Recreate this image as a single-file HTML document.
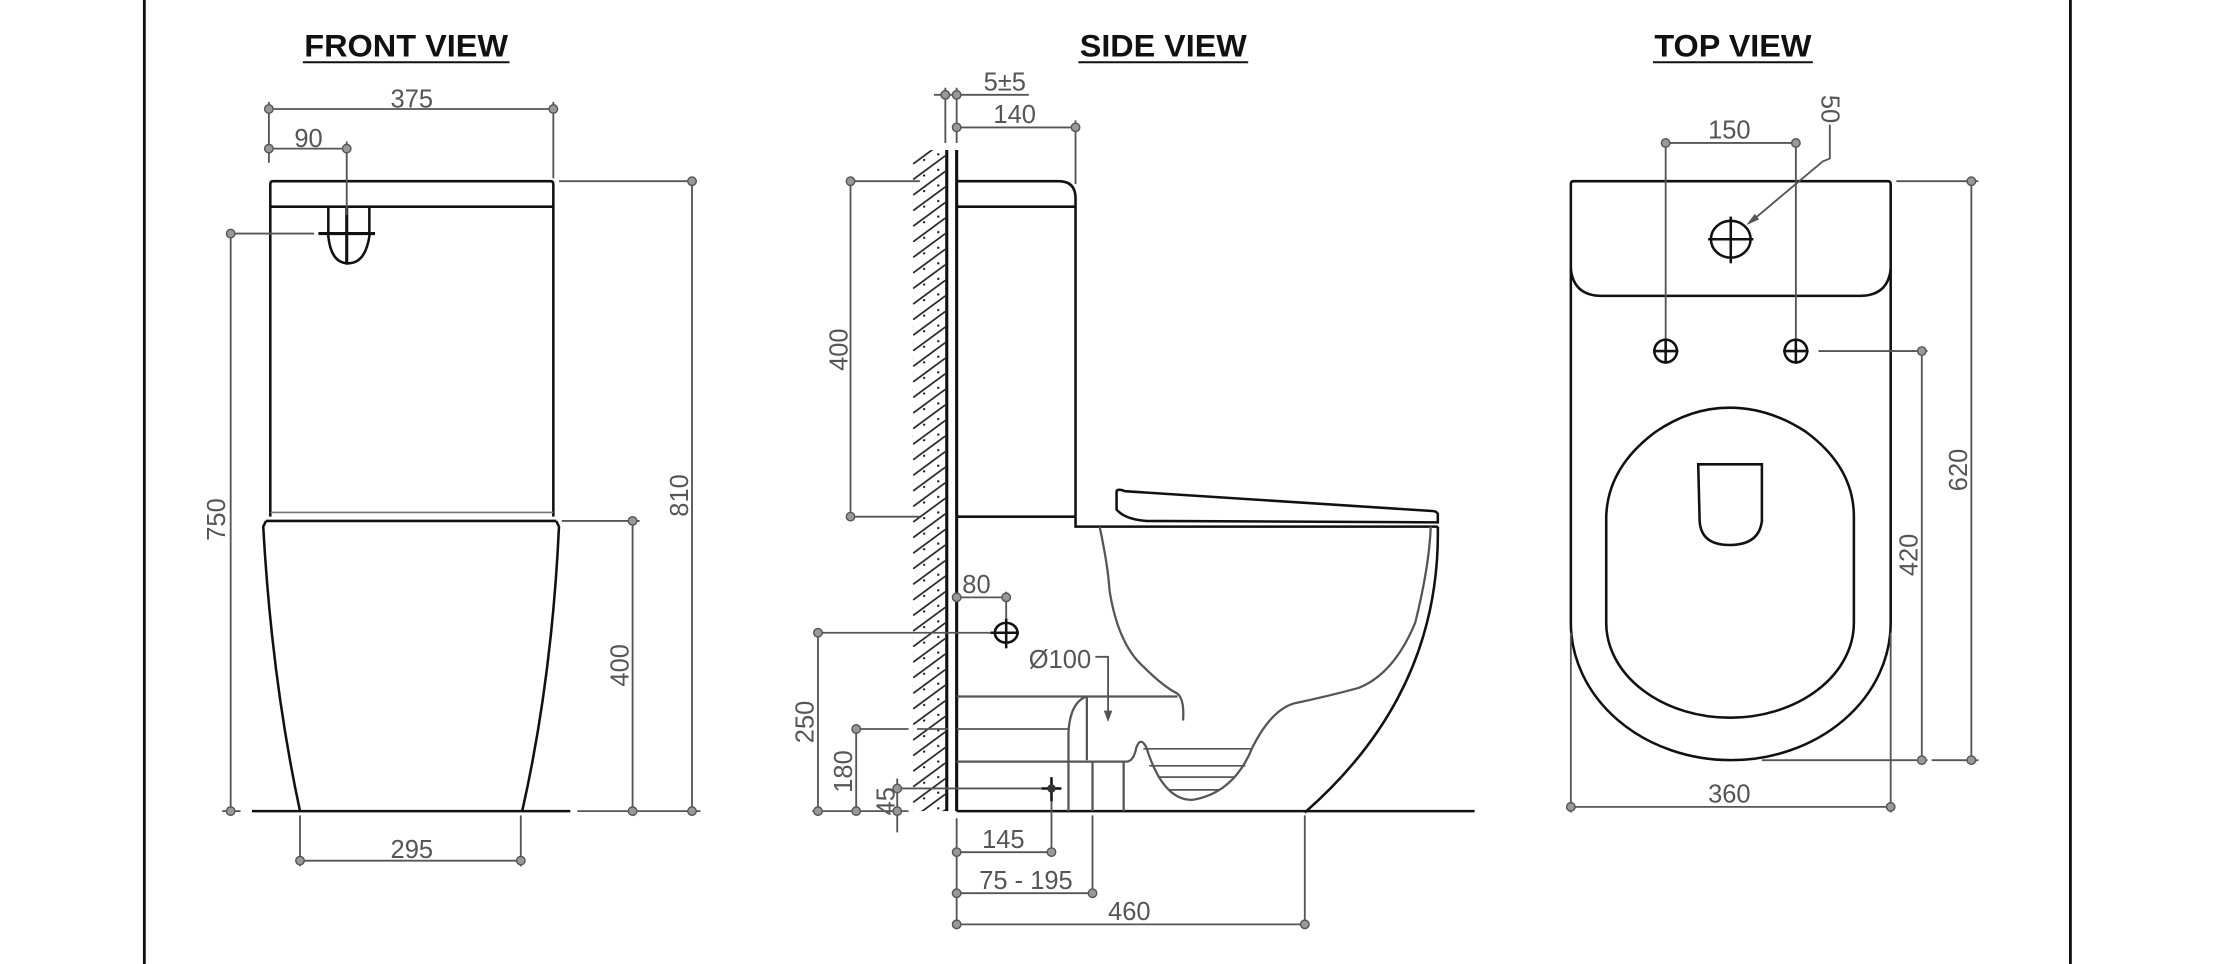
<!DOCTYPE html>
<html><head><meta charset="utf-8"><style>
html,body{margin:0;padding:0;background:#fff}
svg{display:block}
text{font-family:"Liberation Sans",sans-serif;fill:#555;font-size:18px}
.t{font-weight:bold;fill:#111;font-size:22px}
</style></head><body>
<svg width="2219" height="964" viewBox="0 0 1568 681" preserveAspectRatio="none" xmlns="http://www.w3.org/2000/svg">
<defs>
<pattern id="h" width="23" height="11" patternUnits="userSpaceOnUse" x="645" y="105">
<line x1="0" y1="11" x2="23" y2="-6" stroke="#222" stroke-width="1.2"/>
<line x1="-23" y1="11" x2="0" y2="-6" stroke="#222" stroke-width="1.2"/>
<line x1="0" y1="22" x2="23" y2="5" stroke="#222" stroke-width="1.2"/>
<circle cx="8" cy="8" r="0.8" fill="#111"/><circle cx="18" cy="4" r="0.8" fill="#111"/>
</pattern>
</defs>
<rect width="1568" height="681" fill="#fff"/>
<line x1="102" y1="0" x2="102" y2="681" stroke="#111" stroke-width="2"/>
<line x1="1463" y1="0" x2="1463" y2="681" stroke="#111" stroke-width="2"/>

<!-- titles -->
<text class="t" x="215" y="40" textLength="144" lengthAdjust="spacingAndGlyphs">FRONT VIEW</text>
<line x1="214" y1="44" x2="360" y2="44" stroke="#111" stroke-width="1.4"/>
<text class="t" x="763" y="40" textLength="118" lengthAdjust="spacingAndGlyphs">SIDE VIEW</text>
<line x1="762" y1="44" x2="882" y2="44" stroke="#111" stroke-width="1.4"/>
<text class="t" x="1169" y="40" textLength="111" lengthAdjust="spacingAndGlyphs">TOP VIEW</text>
<line x1="1168" y1="44" x2="1281" y2="44" stroke="#111" stroke-width="1.4"/>

<!-- ============ FRONT VIEW ============ -->
<g fill="none" stroke="#111" stroke-width="1.8">
<path d="M191,365 L191,130 Q191,128 193,128 L389,128 Q391,128 391,130 L391,365"/>
<line x1="191" y1="146" x2="391" y2="146"/>
<line x1="188" y1="368" x2="393" y2="368"/>
<path d="M188,368 L186,372 Q192,480 212,573"/>
<path d="M393,368 L395,372 Q390,480 369,573"/>
<line x1="178" y1="573" x2="403" y2="573"/>
<path d="M232,146 L232,167 Q234,186 246,186 Q258,186 261,167 L261,146"/>
<line x1="225" y1="165" x2="265" y2="165" stroke-width="2.2"/>
<line x1="245" y1="146" x2="245" y2="187" stroke-width="2.2"/>
</g>
<line x1="191" y1="362" x2="391" y2="362" stroke="#777" stroke-width="1.2"/>
<g fill="none" stroke="#555" stroke-width="1.3">
<line x1="190" y1="77" x2="391" y2="77"/><line x1="190" y1="72" x2="190" y2="115"/><line x1="391" y1="72" x2="391" y2="126"/>
<line x1="190" y1="105" x2="245" y2="105"/><line x1="245" y1="100" x2="245" y2="152"/>
<line x1="163" y1="165" x2="222" y2="165"/><line x1="163" y1="165" x2="163" y2="573"/>
<line x1="157" y1="573" x2="170" y2="573"/>
<line x1="395" y1="128" x2="492" y2="128"/><line x1="489" y1="128" x2="489" y2="573"/>
<line x1="397" y1="368" x2="452" y2="368"/><line x1="447" y1="368" x2="447" y2="573"/>
<line x1="408" y1="573" x2="495" y2="573"/>
<line x1="212" y1="576" x2="212" y2="612"/><line x1="368" y1="576" x2="368" y2="612"/>
<line x1="212" y1="608" x2="368" y2="608"/>
</g>
<g fill="#999" stroke="#555" stroke-width="1">
<circle cx="190" cy="77" r="3"/><circle cx="391" cy="77" r="3"/>
<circle cx="190" cy="105" r="3"/><circle cx="245" cy="105" r="3"/>
<circle cx="163" cy="165" r="3"/><circle cx="163" cy="573" r="3"/>
<circle cx="489" cy="128" r="3"/><circle cx="489" cy="573" r="3"/>
<circle cx="447" cy="368" r="3"/><circle cx="447" cy="573" r="3"/>
<circle cx="212" cy="608" r="3"/><circle cx="368" cy="608" r="3"/>
</g>
<text x="291" y="76" text-anchor="middle">375</text>
<text x="218" y="104" text-anchor="middle">90</text>
<text x="291" y="606" text-anchor="middle">295</text>
<text transform="translate(159,367) rotate(-90)" text-anchor="middle">750</text>
<text transform="translate(486,350) rotate(-90)" text-anchor="middle">810</text>
<text transform="translate(444,470) rotate(-90)" text-anchor="middle">400</text>

<!-- ============ SIDE VIEW ============ -->
<rect x="645" y="106" width="23" height="467" fill="url(#h)"/>
<g fill="none" stroke="#111" stroke-width="1.8">
<line x1="669" y1="106" x2="669" y2="573" stroke-width="2.2"/>
<line x1="676" y1="106" x2="676" y2="573" stroke-width="2.2"/>
<path d="M676,128 L748,128 Q760,128 760,140 L760,365"/>
<line x1="676" y1="146" x2="760" y2="146"/>
<line x1="676" y1="365" x2="760" y2="365"/>
<path d="M760,365 L760,372 L1016,372"/>
<path d="M789,347 L789,360 Q795,367 810,368 L1016,369 L1016,363 Q1015,361 1012,361 L795,347 Q790,345 789,347 Z"/>
<path d="M1016,372 Q1018,490 922,574"/>
<line x1="676" y1="573" x2="1042" y2="573"/>
</g>
<g fill="none" stroke="#555" stroke-width="1.6">
<path d="M777,372 Q783,400 784,417 Q790,455 808,471 Q822,485 832,490 Q837,494 836,509"/>
<path d="M676,492 L832,492"/>
<path d="M768,492 L768,537"/>
<path d="M768,492 Q756,496 755,518 L755,573"/>
<path d="M676,538 L796,538 Q801,538 803,528 Q806,520 810,528 Q822,566 843,565 Q872,560 885,528 Q898,502 914,497 Q938,492 960,486 Q985,476 1000,440 Q1010,400 1011,372"/>
<line x1="772" y1="538" x2="772" y2="573"/><line x1="794" y1="538" x2="794" y2="573"/>
<line x1="808" y1="529" x2="885" y2="529" stroke-width="1.2"/>
<line x1="812" y1="541" x2="880" y2="541" stroke-width="1.2"/>
<line x1="818" y1="549" x2="873" y2="549" stroke-width="1.2"/>
<line x1="826" y1="558" x2="861" y2="558" stroke-width="1.2"/>
<line x1="676" y1="515" x2="755" y2="515" stroke-width="1.2"/>
</g>
<g fill="none" stroke="#555" stroke-width="1.3">
<line x1="660" y1="67" x2="727" y2="67"/>
<line x1="668" y1="62" x2="668" y2="101"/><line x1="676" y1="62" x2="676" y2="101"/>
<line x1="676" y1="90" x2="760" y2="90"/><line x1="760" y1="85" x2="760" y2="130"/>
<line x1="598" y1="128" x2="650" y2="128"/><line x1="598" y1="365" x2="650" y2="365"/>
<line x1="601" y1="128" x2="601" y2="365"/>
<line x1="676" y1="422" x2="711" y2="422"/><line x1="711" y1="418" x2="711" y2="437"/>
<line x1="575" y1="447" x2="700" y2="447"/><line x1="578" y1="447" x2="578" y2="573"/>
<line x1="602" y1="515" x2="670" y2="515" stroke-dasharray="40 6"/>
<line x1="605" y1="515" x2="605" y2="573"/>
<line x1="634" y1="550" x2="634" y2="588"/><line x1="634" y1="557" x2="745" y2="557"/>
<line x1="574" y1="573" x2="642" y2="573"/>
<line x1="676" y1="578" x2="676" y2="656"/>
<line x1="676" y1="602" x2="743" y2="602"/><line x1="743" y1="560" x2="743" y2="604"/>
<line x1="676" y1="631" x2="772" y2="631"/><line x1="772" y1="576" x2="772" y2="633"/>
<line x1="676" y1="653" x2="922" y2="653"/><line x1="922" y1="576" x2="922" y2="655"/>
<path d="M774,464 L783,464 L783,506"/>
</g>
<path d="M780,502 L783,510 L786,502 Z" fill="#555"/>
<g fill="#999" stroke="#555" stroke-width="1">
<circle cx="668" cy="67" r="3"/><circle cx="676" cy="67" r="3"/>
<circle cx="676" cy="90" r="3"/><circle cx="760" cy="90" r="3"/>
<circle cx="601" cy="128" r="3"/><circle cx="601" cy="365" r="3"/>
<circle cx="676" cy="422" r="3"/><circle cx="711" cy="422" r="3"/>
<circle cx="578" cy="447" r="3"/><circle cx="578" cy="573" r="3"/>
<circle cx="605" cy="515" r="3"/><circle cx="605" cy="573" r="3"/>
<circle cx="634" cy="557" r="3"/><circle cx="634" cy="573" r="3"/>
<circle cx="676" cy="602" r="3"/><circle cx="743" cy="602" r="3"/>
<circle cx="676" cy="631" r="3"/><circle cx="772" cy="631" r="3"/>
<circle cx="676" cy="653" r="3"/><circle cx="922" cy="653" r="3"/>
</g>
<g fill="none" stroke="#111" stroke-width="1.8">
<ellipse cx="711" cy="447" rx="8" ry="7"/>
<line x1="700" y1="447" x2="720" y2="447"/><line x1="711" y1="437" x2="711" y2="458"/>
<line x1="736" y1="557" x2="750" y2="557"/><line x1="743" y1="549" x2="743" y2="566"/>
</g>
<circle cx="743" cy="557" r="3" fill="#333"/>
<text x="710" y="64" text-anchor="middle">5±5</text>
<text x="717" y="87" text-anchor="middle">140</text>
<text x="690" y="419" text-anchor="middle">80</text>
<text x="749" y="472" text-anchor="middle">Ø100</text>
<text x="709" y="599" text-anchor="middle">145</text>
<text x="725" y="628" text-anchor="middle">75 - 195</text>
<text x="798" y="650" text-anchor="middle">460</text>
<text transform="translate(599,247) rotate(-90)" text-anchor="middle">400</text>
<text transform="translate(575,510) rotate(-90)" text-anchor="middle">250</text>
<text transform="translate(602,545) rotate(-90)" text-anchor="middle">180</text>
<text transform="translate(632,566) rotate(-90)" text-anchor="middle">45</text>

<!-- ============ TOP VIEW ============ -->
<g fill="none" stroke="#111" stroke-width="1.8">
<path d="M1110,440 L1110,130 Q1110,128 1112,128 L1334,128 Q1336,128 1336,130 L1336,440 A113,97 0 0 1 1110,440"/>
<path d="M1110,190 Q1112,209 1132,209 L1314,209 Q1334,209 1336,190"/>
<path d="M1135,440 L1135,365 Q1136,330 1170,305 Q1195,288 1222,288 Q1250,288 1276,305 Q1310,330 1310,365 L1310,440 A87.5,67 0 0 1 1135,440 Z"/>
<path d="M1200,328 L1245,328 L1245,368 Q1243,385 1222,385 Q1202,385 1201,368 Z"/>
<ellipse cx="1223" cy="169" rx="14" ry="13"/>
<line x1="1207" y1="169" x2="1239" y2="169"/><line x1="1223" y1="153" x2="1223" y2="186"/>
<circle cx="1177" cy="248" r="8"/><line x1="1168" y1="248" x2="1186" y2="248"/><line x1="1177" y1="239" x2="1177" y2="257"/>
<circle cx="1269" cy="248" r="8"/><line x1="1260" y1="248" x2="1278" y2="248"/><line x1="1269" y1="239" x2="1269" y2="257"/>
</g>
<g fill="none" stroke="#555" stroke-width="1.3">
<line x1="1177" y1="101" x2="1269" y2="101"/>
<line x1="1177" y1="101" x2="1177" y2="239"/><line x1="1269" y1="101" x2="1269" y2="239"/>
<path d="M1293,88 L1293,112 L1288,114 L1238,156"/>
<line x1="1340" y1="128" x2="1398" y2="128"/><line x1="1393" y1="128" x2="1393" y2="537"/>
<line x1="1365" y1="537" x2="1398" y2="537"/>
<line x1="1285" y1="248" x2="1362" y2="248"/><line x1="1358" y1="248" x2="1358" y2="537"/>
<line x1="1245" y1="537" x2="1362" y2="537"/>
<line x1="1110" y1="447" x2="1110" y2="574"/><line x1="1336" y1="447" x2="1336" y2="574"/>
<line x1="1110" y1="570" x2="1336" y2="570"/>
</g>
<path d="M1234,159 L1243,155 L1240,151 Z" fill="#555"/>
<g fill="#999" stroke="#555" stroke-width="1">
<circle cx="1177" cy="101" r="3"/><circle cx="1269" cy="101" r="3"/>
<circle cx="1393" cy="128" r="3"/><circle cx="1393" cy="537" r="3"/>
<circle cx="1358" cy="248" r="3"/><circle cx="1358" cy="537" r="3"/>
<circle cx="1110" cy="570" r="3"/><circle cx="1336" cy="570" r="3"/>
</g>
<text x="1222" y="98" text-anchor="middle">150</text>
<text x="1222" y="567" text-anchor="middle">360</text>
<text transform="translate(1287,77) rotate(90)" text-anchor="middle">50</text>
<text transform="translate(1390,332) rotate(-90)" text-anchor="middle">620</text>
<text transform="translate(1355,392) rotate(-90)" text-anchor="middle">420</text>
</svg>
</body></html>
